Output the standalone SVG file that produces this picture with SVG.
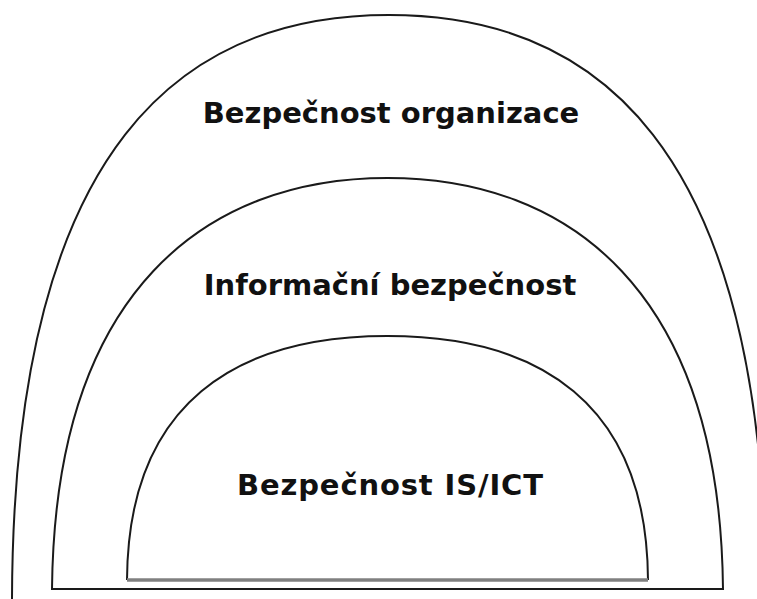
<svg xmlns="http://www.w3.org/2000/svg" width="757" height="599" viewBox="0 0 757 599">
<style>
.arch{fill:none;stroke:#1a1a1a;stroke-width:2}
.lbl{font-family:"DejaVu Sans","Liberation Sans",sans-serif;font-weight:bold;font-size:29px;fill:#111;text-anchor:middle}
</style>
<rect width="757" height="599" fill="#fff"/>
<g id="outer">
<path class="arch" d="M12,600 C13,139 187,15 389,15 C591,15 765,139 766,600"/>
<text class="lbl" x="391" y="123">Bezpečnost organizace</text>
</g>
<g id="middle">
<path class="arch" d="M52,589 C55,289 207.5,178 387.5,178 C567.5,178 720,289 723,589 Z"/>
<text class="lbl" x="390" y="295">Informační bezpečnost</text>
</g>
<g id="inner">
<path class="arch" d="M127,580 C128,402 237.5,336 387.5,336 C537.5,336 647,402 648,580"/>
<line x1="127" y1="580" x2="648" y2="580" stroke="#808080" stroke-width="3.5"/>
<text class="lbl" x="390" y="495" textLength="306" lengthAdjust="spacing">Bezpečnost IS/ICT</text>
</g>
<g id="connectors"/>
</svg>
